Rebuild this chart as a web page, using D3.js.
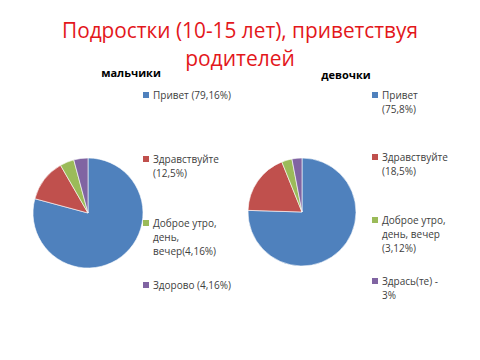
<!DOCTYPE html>
<html><head><meta charset="utf-8">
<script src="https://cdn.jsdelivr.net/npm/d3@7"></script>
<style>body{margin:0;background:#fff}svg{display:block}</style>
</head><body>
<script>
const titleLines = ["Подростки (10-15 лет), приветствуя", "родителей"];
const boysTitle = "мальчики";
const girlsTitle = "девочки";
const boysLabels = [["Привет (79,16%)"], ["Здравствуйте", "(12,5%)"], ["Доброе утро,", "день,", "вечер(4,16%)"], ["Здорово (4,16%)"]];
const boysValues = [79.16, 12.5, 4.16, 4.16];
const girlsLabels = [["Привет", "(75,8%)"], ["Здравствуйте", "(18,5%)"], ["Доброе утро,", "день, вечер", "(3,12%)"], ["Здрась(те) -", "3%"]];
const girlsValues = [75.8, 18.5, 3.12, 3];
const colors = ["#4F81BD", "#C0504D", "#9BBB59", "#8064A2"];

const W = 480, H = 360;
const svg = d3.select("body").append("svg").attr("width", W).attr("height", H);
const font = "'Open Sans', 'Liberation Sans', sans-serif";

svg.selectAll("text.title").data(titleLines).join("text")
  .attr("x", 240).attr("y", (d, i) => 38 + i * 28)
  .attr("text-anchor", "middle").attr("fill", "#E3171B")
  .attr("font-family", font).attr("font-size", 21)
  .attr("textLength", (d, i) => i === 0 ? 356 : null)
  .attr("lengthAdjust", "spacingAndGlyphs")
  .text(d => d);

const color = d3.scaleOrdinal().domain(d3.range(4)).range(colors);

function drawPie(cfg) {
  const g = svg.append("g");
  g.append("text").attr("x", cfg.tx).attr("y", cfg.ty).attr("text-anchor", "middle")
    .attr("font-family", font).attr("font-weight", "bold").attr("font-size", 11)
    .attr("fill", "#000").text(cfg.title);
  const pie = d3.pie().sort(null).value(d => d);
  const arc = d3.arc().innerRadius(0).outerRadius(cfg.r);
  g.append("g").attr("transform", `translate(${cfg.cx},${cfg.cy})`)
    .selectAll("path").data(pie(cfg.values)).join("path")
    .attr("d", arc).attr("fill", (d, i) => color(i))
    .attr("stroke", "#fff").attr("stroke-width", 0.6);
  const lg = g.append("g");
  cfg.labels.forEach((lines, i) => {
    const y0 = cfg.ly[i];
    lg.append("rect").attr("x", cfg.lx - 10).attr("y", y0 - 3).attr("width", 6).attr("height", 6)
      .attr("fill", color(i));
    lines.forEach((t, j) => {
      lg.append("text").attr("x", cfg.lx).attr("y", y0 + j * 14.3).attr("dy", "0.35em")
        .attr("font-family", font).attr("font-size", 10).attr("fill", "#404040").text(t);
    });
  });
}

drawPie({title: boysTitle, tx: 131, ty: 77, cx: 88, cy: 213, r: 55,
  values: boysValues, labels: boysLabels, lx: 153, ly: [95, 159, 223, 285]});
drawPie({title: girlsTitle, tx: 346, ty: 79, cx: 302, cy: 212, r: 54,
  values: girlsValues, labels: girlsLabels, lx: 382, ly: [95, 157, 220, 281]});
</script>
</body></html>
